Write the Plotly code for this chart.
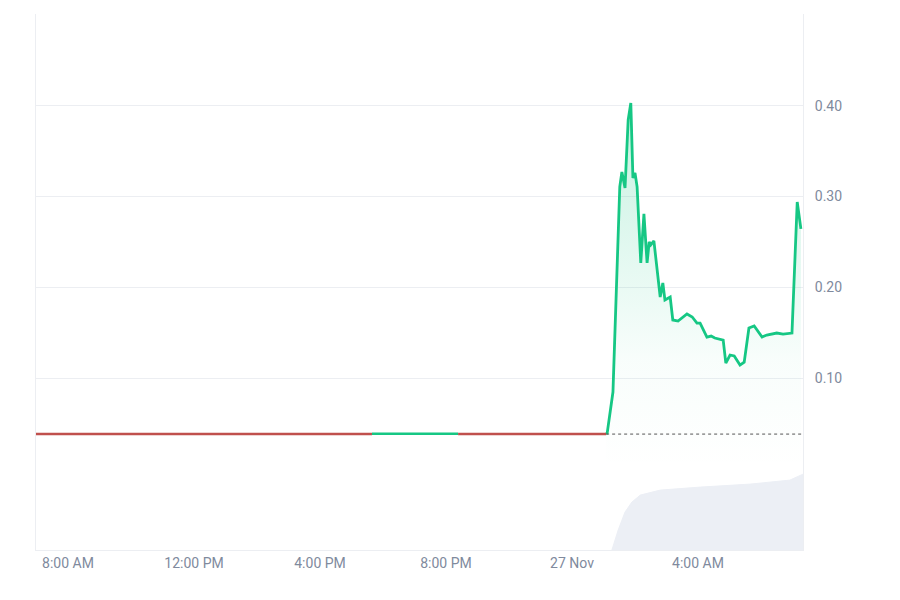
import plotly.graph_objects as go
from datetime import datetime, timedelta

base_day = datetime(2024, 11, 27)
def t(day, hm):
    h, m = map(int, hm.split(":"))
    return base_day + timedelta(days=day, hours=h, minutes=m)

# flat pre-spike segments (Nov 26 -> Nov 27)
flat_red1_t = [t(-1, "06:59"), t(-1, "17:39")]
flat_red1_v = [0.0383, 0.0383]
flat_green_t = [t(-1, "17:39"), t(-1, "20:23")]
flat_green_v = [0.0388, 0.0388]
flat_red2_t = [t(-1, "20:23"), t(0, "01:05")]
flat_red2_v = [0.0383, 0.0383]

spike_times = ["01:05", "01:07", "01:18", "01:31", "01:35", "01:41", "01:47", "01:52", "01:56", "02:00",
               "02:04", "02:11", "02:17", "02:23", "02:27", "02:30", "02:36", "02:48", "02:53", "02:57",
               "03:07", "03:12", "03:22", "03:39", "03:49", "03:58", "04:04", "04:17", "04:25", "04:32",
               "04:48", "04:53", "05:01", "05:09", "05:20", "05:28", "05:37", "05:47", "06:02", "06:11",
               "06:30", "06:42", "06:59", "07:09", "07:16"]
spike_vals = [0.0383, 0.0394, 0.0846, 0.3106, 0.327, 0.3095, 0.3845, 0.403, 0.3205, 0.326,
              0.3106, 0.2268, 0.2808, 0.2268, 0.250, 0.2466, 0.251, 0.1893, 0.2047, 0.186,
              0.1893, 0.164, 0.1628, 0.1706, 0.1673, 0.1606, 0.1606, 0.1452, 0.1463, 0.1441,
              0.1419, 0.1165, 0.1254, 0.1243, 0.1143, 0.1176, 0.1551, 0.1573, 0.1452, 0.1474,
              0.1496, 0.1485, 0.1496, 0.294, 0.2643]

vol_times = ["01:16", "01:28", "01:41", "01:54", "02:10", "02:48", "04:04", "05:39", "06:55", "07:09", "07:20"]
vol_vals = [0, 20, 38, 48, 55, 60, 63, 66, 70, 73, 76]

x_ticks = [t(-1, "08:00"), t(-1, "12:00"), t(-1, "16:00"), t(-1, "20:00"), t(0, "00:00"), t(0, "04:00")]
x_labels = ["8:00 AM", "12:00 PM", "4:00 PM", "8:00 PM", "27 Nov", "4:00 AM"]
y_ticks = [0.10, 0.20, 0.30, 0.40]

GREEN = "#16c784"
RED = "#c0504d"
fig = go.Figure()
fig.add_trace(go.Scatter(
    x=[t(0, s) for s in vol_times], y=vol_vals, mode="lines", yaxis="y2",
    line=dict(color="rgba(236,239,245,1)", width=1), fill="tozeroy", fillcolor="rgba(236,239,245,1)"))
fig.add_trace(go.Scatter(
    x=[t(0, s) for s in spike_times], y=spike_vals, mode="lines",
    line=dict(color=GREEN, width=2.8), fill="tozeroy",
    fillgradient=dict(type="vertical", colorscale=[[0, "rgba(22,199,132,0)"], [0.3, "rgba(22,199,132,0.03)"], [1, "rgba(22,199,132,0.25)"]]),
    hoverinfo="skip"))
for xs, ys, c in [(flat_red1_t, flat_red1_v, RED), (flat_green_t, flat_green_v, GREEN), (flat_red2_t, flat_red2_v, RED)]:
    fig.add_trace(go.Scatter(x=xs, y=ys, mode="lines", line=dict(color=c, width=2.5)))

fig.add_shape(type="line", x0=t(0, "01:05"), x1=t(0, "07:20"), y0=0.0383, y1=0.0383,
              line=dict(color="#555", width=1, dash="dot"))

fig.update_layout(
    width=900, height=600, showlegend=False,
    margin=dict(l=28, r=105, t=6, b=58),
    plot_bgcolor="white", paper_bgcolor="white",
    font=dict(family="Roboto, Arial", size=14, color="#808a9d"),
    xaxis=dict(type="date", anchor="y2", range=[t(-1, "06:59"), t(0, "07:20")], tickvals=x_ticks, ticktext=x_labels,
               showgrid=False, showline=True, linecolor="#eceef2", mirror=False, ticks="", ticklen=0),
    yaxis=dict(domain=[0.149, 1], range=[-0.0014, 0.501], side="right", tickvals=y_ticks, tickformat=".2f",
               gridcolor="#eceef2", showline=True, linecolor="#eceef2", mirror=True, zeroline=False, ticklabelstandoff=8),
    yaxis2=dict(domain=[0, 0.149], range=[0, 80], showticklabels=False, showgrid=False,
                showline=True, linecolor="#eceef2", mirror=True, zeroline=False),
)
fig.write_html("out.html")
